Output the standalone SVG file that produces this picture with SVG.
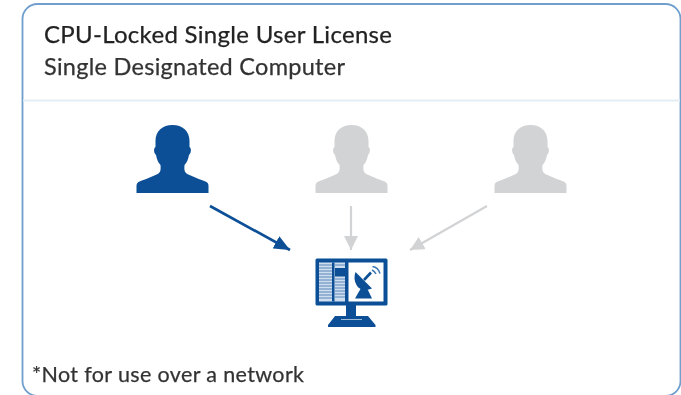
<svg xmlns="http://www.w3.org/2000/svg" width="681" height="395" viewBox="0 0 681 395">
<style>
.t{font-family:"Lato","Open Sans","Liberation Sans",sans-serif;fill:#222;stroke:#222;stroke-width:.25}
.c{fill:none}
.blue{fill:#0b4f96}.grey{fill:#d2d3d5}
.rack{stroke:#0b4f96;stroke-width:1;opacity:.6}
</style>
<defs>
<filter id="soft" x="-10%" y="-10%" width="120%" height="120%"><feGaussianBlur stdDeviation="0.6"/></filter>
<marker id="ab" markerUnits="userSpaceOnUse" markerWidth="18" markerHeight="14" refX="16" refY="7" orient="auto"><path d="M0 0L16 7L0 14Z" fill="#0b4f96"/></marker>
<marker id="ag" markerUnits="userSpaceOnUse" markerWidth="16" markerHeight="14" refX="14" refY="7" orient="auto"><path d="M0 0L14 7L0 14Z" fill="#d2d3d5"/></marker>
<path id="person" d="M0 -68C-10 -68 -17 -62 -17 -52L-17 -46C-19 -45 -19 -40 -16.500 -38C-15.500 -33 -14 -30 -12 -28C-11.500 -22 -12 -20 -17 -18C-23 -15 -30 -13 -34 -11C-36 -10 -36 -8 -36 -6L-36 0L36 0L36 -6C36 -8 36 -10 34 -11C30 -13 23 -15 17 -18C12 -20 11.500 -22 12 -28C14 -30 15.500 -33 16.500 -38C19 -40 19 -45 17 -46L17 -52C17 -62 10 -68 0 -68Z"/>
</defs>
<g id="frame" filter="url(#soft)">
<rect x="22.500" y="4" width="658" height="392" rx="15" fill="#fff" stroke="#6f9fce" stroke-width="1.800"/>
<line x1="23" y1="100.500" x2="680" y2="100.500" stroke="#e2edf6" stroke-width="2"/>
</g>
<g id="heading" filter="url(#soft)">
<text class="t" x="44" y="43" font-size="24" textLength="348" lengthAdjust="spacing">CPU-Locked Single User License</text>
<text class="t" x="44" y="75" font-size="23.500" textLength="301" lengthAdjust="spacing" style="fill:#333;stroke:#333">Single Designated Computer</text>
</g>
<g id="connectors" filter="url(#soft)">
<line class="c" x1="210" y1="206" x2="290" y2="250" stroke="#0b4f96" stroke-width="2.600" marker-end="url(#ab)"/>
<line class="c" x1="351" y1="206" x2="351" y2="250" stroke="#d2d3d5" stroke-width="2.200" marker-end="url(#ag)"/>
<line class="c" x1="487" y1="206" x2="410" y2="250" stroke="#d2d3d5" stroke-width="2.200" marker-end="url(#ag)"/>
</g>
<g id="user-1" filter="url(#soft)"><use href="#person" class="blue" x="172.500" y="193"/></g>
<g id="user-2" filter="url(#soft)"><use href="#person" class="grey" x="351.500" y="193"/></g>
<g id="user-3" filter="url(#soft)"><use href="#person" class="grey" x="530.500" y="193"/></g>
<g id="computer" filter="url(#soft)">
<rect class="blue" x="315.500" y="258.500" width="72" height="47" rx="1.500"/>
<rect x="319" y="262.500" width="26" height="39" fill="#cfdeee"/>
<rect x="348.500" y="262.500" width="35" height="39" fill="#fff"/>
<rect class="blue" x="332" y="262.500" width="2.500" height="39"/>
<rect class="blue" x="335" y="268" width="10" height="8.500"/>
<path class="rack" d="M319 265H332M319 268H332M319 271H332M319 274H332M319 277H332M319 280H332M319 283H332M319 286H332M319 289H332M319 292H332M319 295H332M319 298H332M335 265H345M335 279H345M335 282H345M335 285H345M335 288H345M335 291H345M335 294H345M335 297H345"/>
<path class="blue" d="M355.500 272L372 288.500C366 291 359 290 356.500 285C354 281 354 276 355.500 272Z"/>
<path class="blue" d="M361 288L355 298.500H372L367 288Z"/>
<path d="M364 280L371 272.500" stroke="#0b4f96" stroke-width="2.600"/>
<path d="M372 270C374 271 375 272 376 274M372.500 266.500C376 267 379 270 380 273.500" fill="none" stroke="#3f78b4" stroke-width="1.500"/>
<rect class="blue" x="346" y="305" width="10" height="12"/>
<path class="blue" d="M335 316H368L375.500 325V327H328V325Z"/>
<path d="M341 319.500H362" stroke="#9dbbdb" stroke-width="1"/>
</g>
<g id="footnote" filter="url(#soft)">
<text class="t" x="32" y="382" font-size="21.500" textLength="272" lengthAdjust="spacing" style="fill:#333;stroke:#333">*Not for use over a network</text>
</g>
</svg>
